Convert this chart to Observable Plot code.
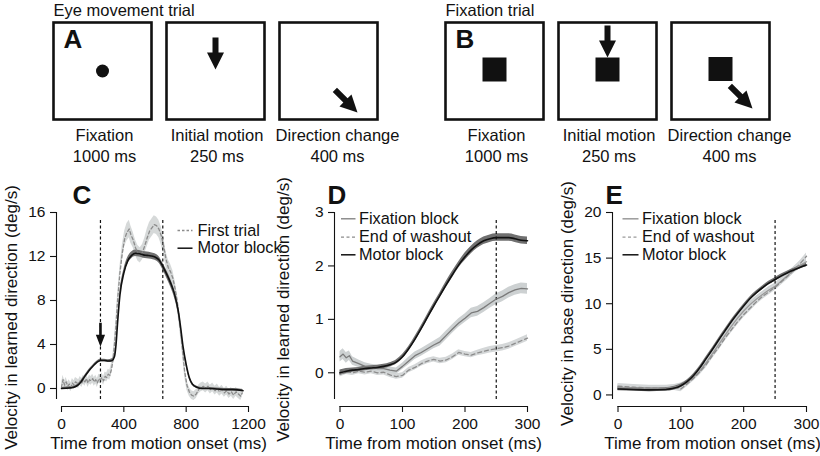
<!DOCTYPE html>
<html><head><meta charset="utf-8">
<script src="https://cdn.jsdelivr.net/npm/d3@7"></script>
<script src="https://cdn.jsdelivr.net/npm/@observablehq/plot@0.6"></script>
<style>
body{margin:0;background:#fff;}
#fig{position:relative;width:820px;height:456px;overflow:hidden;background:#fff;}
#fig svg{position:absolute;background:transparent;overflow:visible;max-width:none;}
</style></head><body><div id="fig"></div>
<script>
// ---------- data ----------
const phases = ["Fixation", "Initial motion", "Direction change"];
const durations = ["1000 ms", "250 ms", "400 ms"];
// stimulus layout inside each 98 x 97 screen (units ~ px, origin at screen centre, y up)
const eyeSpots = [{phase: "Fixation", x: 0, y: 0}];
const eyeArrows = [{phase: "Initial motion", x: 0, y: 1.5, dir: "down"}, {phase: "Direction change", x: 29, y: -41.5, dir: "downRight"}];
const fixSquares = [{phase: "Fixation", x: 0, y: 1.5}, {phase: "Initial motion", x: 0, y: 1.5}, {phase: "Direction change", x: 0, y: 2}];
const fixArrows = [{phase: "Initial motion", x: 0, y: 13.5, dir: "down"}, {phase: "Direction change", x: 32, y: -37.5, dir: "downRight"}];

// Panel C: [time ms, velocity deg/s, sem]
const firstTrialC = [[0,0.1,0.35],[10,0.8,0.4],[20,0.3,0.4],[30,0.6,0.4],[40,0.2,0.4],[50,0.4,0.4],[60,0.1,0.4],[70,0.5,0.4],[80,0.3,0.4],[90,0.6,0.4],[100,0.5,0.4],[110,0.4,0.4],[120,0.7,0.4],[130,0.5,0.4],[140,0.8,0.4],[150,0.6,0.4],[160,0.9,0.4],[170,0.5,0.4],[180,0.8,0.4],[190,0.7,0.4],[200,0.9,0.4],[210,0.6,0.4],[220,0.8,0.4],[230,0.5,0.4],[240,0.9,0.4],[250,0.8,0.4],[260,1.0,0.4],[270,0.7,0.4],[280,1.1,0.4],[290,1.0,0.4],[300,1.3,0.45],[310,1.2,0.45],[320,1.7,0.5],[330,2.5,0.5],[340,4.0,0.6],[350,5.8,0.6],[360,8.0,0.6],[375,10.5,0.6],[390,12.3,0.7],[405,13.6,0.7],[420,14.2,0.8],[435,14.5,0.8],[445,14.0,0.8],[460,13.5,0.7],[475,12.8,0.7],[490,12.3,0.7],[505,12.1,0.7],[520,12.4,0.7],[535,13.0,0.7],[550,13.7,0.8],[565,14.3,0.8],[580,14.6,0.8],[595,14.9,0.8],[610,14.8,0.8],[625,14.5,0.8],[640,13.9,0.8],[655,13.0,0.8],[670,11.8,0.7],[685,11.0,0.7],[700,10.6,0.7],[715,10.0,0.7],[730,9.0,0.7],[745,7.7,0.7],[760,5.8,0.6],[775,3.8,0.6],[790,1.6,0.5],[805,0.3,0.45],[820,-0.3,0.4],[835,-0.6,0.4],[850,-0.7,0.4],[865,-0.5,0.4],[880,-0.1,0.4],[895,0.1,0.4],[910,0.2,0.4],[925,0.0,0.4],[940,0.2,0.4],[955,-0.1,0.4],[970,0.1,0.4],[985,-0.2,0.4],[1000,0.0,0.4],[1015,-0.3,0.4],[1030,-0.1,0.4],[1045,-0.4,0.4],[1060,-0.2,0.4],[1075,-0.5,0.4],[1090,-0.3,0.4],[1105,-0.6,0.4],[1120,-0.3,0.4],[1135,-0.5,0.4],[1150,-0.7,0.4],[1160,-0.4,0.4]];
const motorC = [[0,0.0,0.1],[50,0.05,0.1],[75,0.1,0.1],[100,0.25,0.1],[125,0.6,0.1],[150,1.1,0.1],[175,1.6,0.1],[200,2.0,0.1],[225,2.35,0.1],[250,2.55,0.12],[275,2.55,0.12],[300,2.5,0.12],[325,2.55,0.15],[340,2.9,0.2],[350,4.0,0.25],[360,6.0,0.3],[375,8.5,0.3],[400,10.5,0.3],[425,11.6,0.3],[450,12.1,0.3],[475,12.3,0.3],[500,12.25,0.3],[525,12.15,0.3],[550,12.1,0.3],[575,12.05,0.3],[600,11.95,0.3],[625,11.7,0.3],[650,11.1,0.3],[675,10.4,0.35],[700,9.6,0.35],[725,8.6,0.35],[750,7.0,0.3],[765,5.5,0.3],[780,3.8,0.25],[800,2.2,0.2],[820,1.0,0.15],[840,0.4,0.12],[870,0.1,0.1],[900,0.0,0.1],[950,0.0,0.1],[1000,-0.05,0.1],[1050,-0.1,0.1],[1100,-0.1,0.1],[1165,-0.2,0.1]];
const cueC = [{t: 250, v: 3.8}];

// Panel D: [time ms, velocity in learned direction, sem]
const fixationD = [[0,0.30,0.10],[5,0.35,0.10],[10,0.28,0.10],[15,0.32,0.09],[20,0.22,0.08],[30,0.17,0.07],[40,0.12,0.07],[50,0.10,0.06],[60,0.08,0.06],[70,0.08,0.06],[80,0.05,0.06],[90,0.03,0.06],[100,0.12,0.06],[110,0.22,0.07],[120,0.32,0.07],[130,0.38,0.07],[140,0.45,0.07],[150,0.52,0.07],[160,0.58,0.08],[170,0.70,0.08],[180,0.82,0.08],[190,0.93,0.08],[200,1.02,0.08],[210,1.12,0.09],[220,1.15,0.09],[230,1.22,0.09],[240,1.30,0.09],[250,1.38,0.10],[260,1.43,0.10],[270,1.50,0.10],[280,1.55,0.10],[290,1.58,0.10],[300,1.57,0.10]];
const washoutD = [[0,-0.02,0.06],[10,0.02,0.05],[20,0.0,0.05],[30,0.03,0.05],[40,0.01,0.05],[50,0.03,0.05],[60,0.0,0.05],[70,0.01,0.05],[80,-0.04,0.05],[90,-0.07,0.05],[100,-0.05,0.05],[110,0.05,0.05],[120,0.10,0.05],[130,0.17,0.05],[140,0.22,0.05],[150,0.25,0.05],[160,0.22,0.05],[170,0.24,0.05],[180,0.30,0.05],[190,0.38,0.05],[200,0.35,0.05],[210,0.33,0.05],[220,0.37,0.05],[230,0.40,0.06],[240,0.43,0.06],[250,0.45,0.06],[260,0.47,0.06],[270,0.50,0.06],[280,0.55,0.06],[290,0.60,0.06],[300,0.65,0.06]];
const motorD = [[0,0.0,0.05],[10,0.03,0.05],[20,0.05,0.04],[30,0.06,0.04],[40,0.08,0.04],[50,0.09,0.04],[60,0.10,0.04],[70,0.12,0.04],[80,0.15,0.04],[90,0.20,0.04],[100,0.30,0.04],[110,0.45,0.04],[120,0.63,0.05],[130,0.83,0.05],[140,1.04,0.05],[150,1.25,0.05],[160,1.45,0.05],[170,1.65,0.06],[180,1.84,0.06],[190,2.02,0.06],[200,2.17,0.07],[210,2.30,0.07],[220,2.40,0.07],[230,2.47,0.07],[240,2.51,0.07],[250,2.53,0.07],[260,2.53,0.07],[270,2.53,0.07],[280,2.51,0.07],[290,2.48,0.07],[300,2.47,0.07]];

// Panel E: [time ms, velocity in base direction, sem]
const fixationE = [[0,0.85,0.3],[25,0.75,0.3],[50,0.65,0.3],[75,0.7,0.3],[90,0.85,0.3],[100,1.0,0.3],[110,1.3,0.3],[120,1.9,0.3],[130,2.6,0.35],[140,3.5,0.35],[150,4.5,0.35],[160,5.5,0.35],[170,6.5,0.35],[180,7.5,0.35],[190,8.4,0.35],[200,9.2,0.35],[210,9.9,0.35],[220,10.5,0.35],[230,11.0,0.35],[240,11.5,0.35],[250,11.9,0.35],[260,12.5,0.35],[270,13.1,0.35],[280,13.7,0.35],[290,14.2,0.35],[300,14.6,0.35]];
const washoutE = [[0,0.95,0.3],[25,0.85,0.3],[50,0.75,0.3],[75,0.75,0.3],[90,0.8,0.3],[100,0.65,0.3],[110,1.2,0.3],[120,1.8,0.3],[130,2.5,0.35],[140,3.3,0.35],[150,4.3,0.35],[160,5.2,0.35],[170,6.2,0.35],[180,7.1,0.35],[190,8.0,0.35],[200,8.8,0.35],[210,9.5,0.35],[220,10.2,0.35],[230,10.8,0.35],[240,11.3,0.35],[250,11.8,0.35],[260,12.4,0.35],[270,13.0,0.35],[280,13.7,0.35],[290,14.4,0.35],[300,15.2,0.35]];
const motorE = [[0,0.65,0.2],[25,0.6,0.2],[50,0.55,0.2],[75,0.6,0.2],[90,0.75,0.2],[100,1.0,0.2],[110,1.45,0.2],[120,2.1,0.2],[130,2.95,0.2],[140,3.95,0.2],[150,4.95,0.2],[160,6.0,0.2],[170,7.0,0.2],[180,8.0,0.2],[190,8.9,0.2],[200,9.75,0.2],[210,10.55,0.2],[220,11.2,0.2],[230,11.75,0.2],[240,12.25,0.2],[250,12.65,0.2],[260,13.05,0.2],[270,13.4,0.2],[280,13.7,0.2],[290,14.0,0.2],[300,14.25,0.2]];

const ticksC = {x: [0, 400, 800, 1200], y: [0, 4, 8, 12, 16]};
const ticksD = {x: [0, 100, 200, 300], y: [0, 1, 2, 3]};
const ticksE = {x: [0, 100, 200, 300], y: [0, 5, 10, 15, 20]};

// ---------- layout ----------
const FONT = '"Liberation Sans", Arial, Helvetica, sans-serif';
const phaseLabelShift = {"Fixation": 2, "Initial motion": 1.5, "Direction change": 9}; // px
const fig = document.getElementById("fig");
function place(svg, left, top) {
  svg.style.left = left + "px";
  svg.style.top = top + "px";
  fig.appendChild(svg);
}
// block arrow symbol, tip at origin, pointing down then rotated (deg, svg sense)
function arrowSymbol(len, headLen, headHalf, shaftHalf, angle) {
  const a = angle * Math.PI / 180, c = Math.cos(a), s = Math.sin(a);
  const pts = [[0,0],[-headHalf,-headLen],[-shaftHalf,-headLen],[-shaftHalf,-len],[shaftHalf,-len],[shaftHalf,-headLen],[headHalf,-headLen]];
  return {draw(ctx) {
    pts.forEach(([x, y], i) => { const X = x * c - y * s, Y = x * s + y * c; i ? ctx.lineTo(X, Y) : ctx.moveTo(X, Y); });
    ctx.closePath();
  }};
}
const arrowDown = arrowSymbol(32, 17, 8.5, 3, 0);
const arrowDownRight = arrowSymbol(32, 17, 8.5, 3, -45);
const cueArrow = arrowSymbol(24, 12, 4.6, 1.3, 0);

function trialPlot({title, letter, spots, squares, arrows, marginLeft, marginRight}) {
  const marks = [
    Plot.frame({stroke: "#111", strokeWidth: 2.6}),
    Plot.text([{phase: phases[0], t: title}], {fx: "phase", frameAnchor: "top-left", text: "t", textAnchor: "start", lineAnchor: "bottom", dy: -7, fontSize: 16.5, fill: "#111"}),
    Plot.text([{phase: phases[0], t: letter}], {fx: "phase", frameAnchor: "top-left", text: "t", textAnchor: "start", lineAnchor: "bottom", dx: 10, dy: 25, fontSize: 26, fontWeight: "bold", fill: "#111"})
  ];
  phases.forEach((p, i) => {
    marks.push(Plot.text([{phase: p, text: p + "\n" + durations[i]}], {fx: "phase", frameAnchor: "bottom", text: "text", textAnchor: "middle", lineAnchor: "top", dx: phaseLabelShift[p], dy: 6.5, lineHeight: 1.27, fontSize: 16.5, fill: "#111"}));
  });
  if (spots) marks.push(Plot.dot(spots, {fx: "phase", x: "x", y: "y", r: 6.5, fill: "#111", stroke: "none"}));
  if (squares) marks.push(Plot.dot(squares, {fx: "phase", x: "x", y: "y", symbol: "square", r: 13.54, fill: "#111", stroke: "none"}));
  marks.push(Plot.dot(arrows.filter(d => d.dir === "down"), {fx: "phase", x: "x", y: "y", symbol: arrowDown, fill: "#111", stroke: "none"}));
  marks.push(Plot.dot(arrows.filter(d => d.dir === "downRight"), {fx: "phase", x: "x", y: "y", symbol: arrowDownRight, fill: "#111", stroke: "none"}));
  return Plot.plot({
    width: 420, height: 168, marginTop: 22, marginBottom: 49, marginLeft, marginRight,
    fx: {domain: phases, paddingInner: 15 / 113, paddingOuter: 0, round: false, axis: null},
    x: {domain: [-49, 49], axis: null},
    y: {domain: [-48.5, 48.5], axis: null},
    style: {fontFamily: FONT, background: "transparent", overflow: "visible"},
    marks
  });
}

function linePanel(cfg) {
  const {left, top, width, height, marginLeft, marginRight, marginTop, marginBottom, insetLeft, insetBottom,
    xDomain, yDomain, ticks, xTitle, yTitle, yTitleDx, yTitleDy, xTitleDx, letter, letterDx,
    vlines, vTopPx, series, legend, extra} = cfg;
  const xr0 = left + marginLeft + insetLeft, xr1 = left + width - marginRight;
  const yr0 = top + height - marginBottom - insetBottom, yr1 = top + marginTop;
  const px2x = px => xDomain[0] + (px - xr0) / (xr1 - xr0) * (xDomain[1] - xDomain[0]);
  const py2y = py => yDomain[0] + (py - yr0) / (yr1 - yr0) * (yDomain[1] - yDomain[0]);
  const marks = [];
  for (const s of series) marks.push(Plot.areaY(s.data, {x: d => d[0], y1: d => d[1] - d[2], y2: d => d[1] + d[2], fill: s.band, fillOpacity: 1, curve: s.curve}));
  marks.push(Plot.ruleX(vlines, {y1: yDomain[0], y2: py2y(vTopPx), stroke: "#111", strokeWidth: 1.2, strokeDasharray: "3,2.5"}));
  for (const s of series) marks.push(Plot.line(s.data, {x: d => d[0], y: d => d[1], stroke: s.stroke, strokeWidth: s.width, strokeDasharray: s.dash, curve: s.curve}));
  if (extra) marks.push(...extra);
  marks.push(Plot.ruleX([xDomain[0]], {y1: yDomain[0], y2: yDomain[1], dx: -insetLeft, stroke: "#111", strokeWidth: 1.1}));
  marks.push(Plot.ruleY([yDomain[0]], {x1: xDomain[0], x2: xDomain[1], dy: insetBottom, stroke: "#111", strokeWidth: 1.1}));
  marks.push(Plot.axisX({ticks: ticks.x, tickFormat: d3.format("d"), tickSize: 6, tickPadding: 5, fontSize: 15.5, label: null, strokeWidth: 1.1}));
  marks.push(Plot.axisY({ticks: ticks.y, tickFormat: d3.format("d"), tickSize: 6, tickPadding: 5, fontSize: 15.5, label: null, strokeWidth: 1.1}));
  marks.push(Plot.text([xTitle], {frameAnchor: "bottom", textAnchor: "middle", lineAnchor: "middle", dy: 37, dx: xTitleDx, fontSize: 17, fill: "#111"}));
  marks.push(Plot.text([yTitle], {frameAnchor: "left", textAnchor: "middle", lineAnchor: "middle", rotate: -90, dx: yTitleDx, dy: yTitleDy, fontSize: 17, fill: "#111"}));
  marks.push(Plot.text([letter], {frameAnchor: "top-left", textAnchor: "start", lineAnchor: "bottom", dx: letterDx, dy: -9, fontSize: 26, fontWeight: "bold", fill: "#111"}));
  legend.rows.forEach(r => {
    marks.push(Plot.link([r], {x1: px2x(legend.x1), x2: px2x(legend.x2), y1: py2y(r.y), y2: py2y(r.y), stroke: r.stroke, strokeWidth: r.width, strokeDasharray: r.dash}));
  });
  marks.push(Plot.text(legend.rows, {x: px2x(legend.tx), y: d => py2y(d.y), text: "label", textAnchor: "start", lineAnchor: "middle", fontSize: 16.3, fill: "#111"}));
  const svg = Plot.plot({
    width, height, marginLeft, marginRight, marginTop, marginBottom,
    x: {domain: xDomain, insetLeft, label: null},
    y: {domain: yDomain, insetBottom, label: null},
    style: {fontFamily: FONT, background: "transparent", overflow: "visible", color: "#111"},
    marks
  });
  place(svg, left, top);
}

// ---------- styles ----------
const sMotor = {stroke: "#111", width: 1.6, band: "#707070", curve: "monotone-x"};
const sFix = {stroke: "#7b7b7b", width: 1.3, band: "#cdd1d2", curve: "linear"};
const sWash = {stroke: "#8c8c8c", width: 1.3, dash: "4,3", band: "#d4d7d8", curve: "linear"};
const sFirst = {stroke: "#8c8c8c", width: 1.3, dash: "3,2.5", band: "#d6d9d9", curve: "linear"};

// ---------- draw ----------
place(trialPlot({title: "Eye movement trial", letter: "A", spots: eyeSpots, arrows: eyeArrows, marginLeft: 53, marginRight: 43}), 0, 0);
place(trialPlot({title: "Fixation trial", letter: "B", squares: fixSquares, arrows: fixArrows, marginLeft: 45, marginRight: 51}), 400, 0);

linePanel({
  left: 0, top: 180, width: 300, height: 276, marginLeft: 56, marginRight: 52, marginTop: 32, marginBottom: 50, insetLeft: 5, insetBottom: 7,
  xDomain: [0, 1200], yDomain: [-1, 16], ticks: ticksC,
  xTitle: "Time from motion onset (ms)", yTitle: "Velocity in learned direction (deg/s)",
  yTitleDx: -45, yTitleDy: 8, xTitleDx: 6, letter: "C", letterDx: 16,
  vlines: [250, 650], vTopPx: 218,
  series: [{...sFirst, data: firstTrialC}, {...sMotor, data: motorC}],
  extra: [Plot.dot(cueC, {x: "t", y: "v", symbol: cueArrow, fill: "#111", stroke: "none"})],
  legend: {x1: 177, x2: 192, tx: 197, rows: [
    {label: "First trial", y: 230, stroke: "#8c8c8c", width: 1.3, dash: "2.5,2"},
    {label: "Motor block", y: 247.7, stroke: "#111", width: 1.5}]}
});
linePanel({
  left: 270, top: 180, width: 290, height: 276, marginLeft: 64, marginRight: 33, marginTop: 32, marginBottom: 50, insetLeft: 5.5, insetBottom: 7,
  xDomain: [0, 300], yDomain: [-0.5, 3], ticks: ticksD,
  xTitle: "Time from motion onset (ms)", yTitle: "Velocity in learned direction (deg/s)",
  yTitleDx: -51, yTitleDy: 0, xTitleDx: 2.5, letter: "D", letterDx: -7,
  vlines: [250], vTopPx: 220,
  series: [{...sWash, data: washoutD}, {...sFix, data: fixationD}, {...sMotor, data: motorD}],
  legend: {x1: 340.5, x2: 355, tx: 358.5, rows: [
    {label: "Fixation block", y: 218.3, stroke: "#7b7b7b", width: 1.3},
    {label: "End of washout", y: 236.7, stroke: "#8c8c8c", width: 1.3, dash: "3,2.5"},
    {label: "Motor block", y: 254.3, stroke: "#111", width: 1.5}]}
});
linePanel({
  left: 545, top: 180, width: 275, height: 276, marginLeft: 67, marginRight: 14, marginTop: 32, marginBottom: 50, insetLeft: 5.5, insetBottom: 7,
  xDomain: [0, 300], yDomain: [-0.5, 20], ticks: ticksE,
  xTitle: "Time from motion onset (ms)", yTitle: "Velocity in base direction (deg/s)",
  yTitleDx: -45, yTitleDy: -6, xTitleDx: 3, letter: "E", letterDx: -7,
  vlines: [250], vTopPx: 220,
  series: [{...sFix, stroke: "#9a9a9a", data: fixationE}, {...sWash, data: washoutE}, {...sMotor, data: motorE}],
  legend: {x1: 622, x2: 638, tx: 641.5, rows: [
    {label: "Fixation block", y: 218.3, stroke: "#9a9a9a", width: 1.5},
    {label: "End of washout", y: 236.7, stroke: "#9a9a9a", width: 1.3, dash: "3,2.5"},
    {label: "Motor block", y: 254.3, stroke: "#111", width: 1.5}]}
});
</script></body></html>
